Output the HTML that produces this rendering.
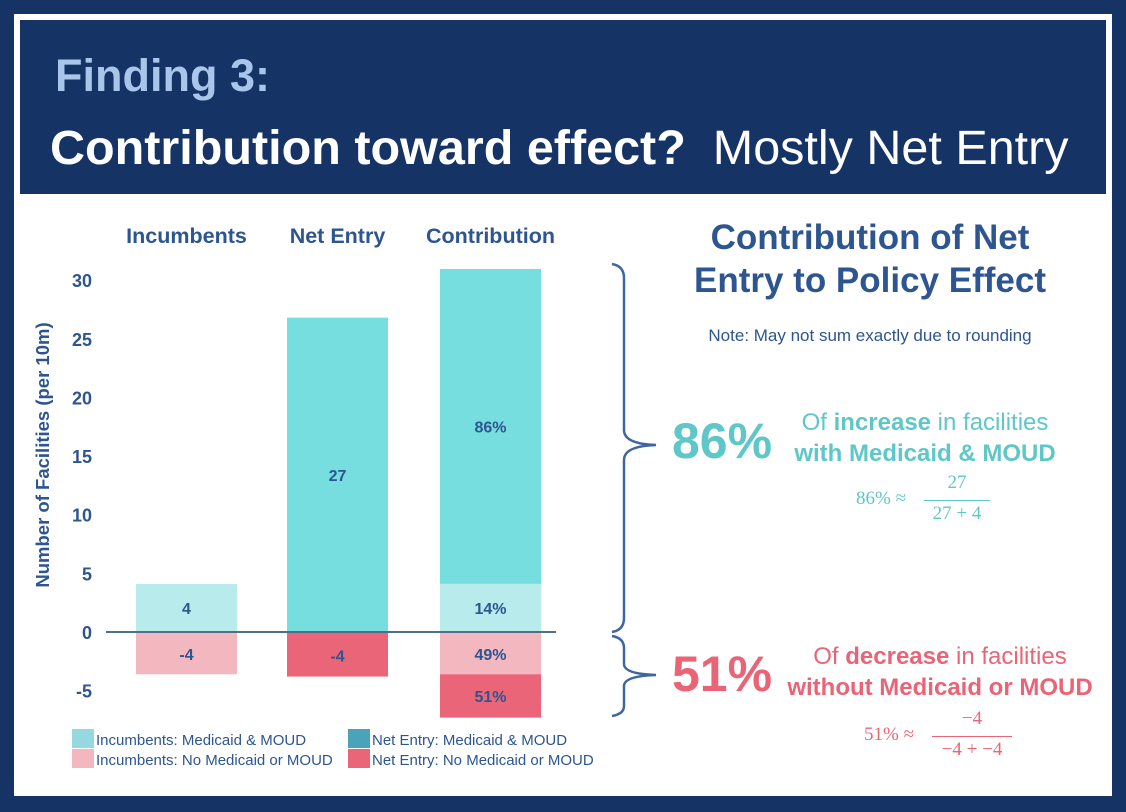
<!DOCTYPE html>
<html><head><meta charset="utf-8"><style>
body{margin:0;width:1126px;height:812px;background:#163366;font-family:"Liberation Sans",sans-serif;overflow:hidden;position:relative}
.panel{position:absolute;left:14px;top:14px;width:1098px;height:782px;background:#fff}
.header{position:absolute;left:20px;top:20px;width:1086px;height:174px;background:#163366}
.t1{position:absolute;left:35px;top:30px;font-size:45px;font-weight:bold;color:#a9c6ea}
.t2{position:absolute;left:30px;top:100px;font-size:48.5px;color:#fff;white-space:nowrap}
.rt{position:absolute;text-align:center;color:#2d5590;font-weight:bold}
</style></head><body>
<div class="panel"></div>
<div class="header">
 <div class="t1">Finding 3:</div>
 <div class="t2"><b>Contribution toward effect?</b>&nbsp; Mostly Net Entry</div>
</div>
<svg width="1126" height="812" style="position:absolute;left:0;top:0">
<g id="bars"></g>
</svg>
<div class="rt" style="left:660px;top:216px;width:420px;font-size:35px;line-height:43px">Contribution of Net<br>Entry to Policy Effect</div>
<div style="position:absolute;left:660px;top:326px;width:420px;text-align:center;font-size:17px;color:#2d5590">Note: May not sum exactly due to rounding</div>
<div style="position:absolute;left:672px;top:412px;font-size:50px;font-weight:bold;color:#5fc7c7">86%</div>
<div style="position:absolute;left:780px;top:407px;width:290px;text-align:center;font-size:24px;line-height:31px;color:#5fc7c7">Of <b>increase</b> in facilities<br><b>with Medicaid &amp; MOUD</b></div>
<div style="position:absolute;left:856px;top:472px;font-family:'Liberation Serif',serif;font-size:19px;color:#5fc7c7">
<span style="position:absolute;left:0;top:16px;white-space:nowrap">86% ≈</span>
<span style="position:absolute;left:68px;top:0;width:66px;text-align:center">27</span>
<span style="position:absolute;left:68px;top:28px;width:66px;border-top:1.5px solid #5fc7c7"></span>
<span style="position:absolute;left:68px;top:31px;width:66px;text-align:center;white-space:nowrap">27 + 4</span></div>
<div style="position:absolute;left:672px;top:645px;font-size:50px;font-weight:bold;color:#ea6478">51%</div>
<div style="position:absolute;left:780px;top:641px;width:320px;text-align:center;font-size:24px;line-height:31px;color:#ea6478">Of <b>decrease</b> in facilities<br><b>without Medicaid or MOUD</b></div>
<div style="position:absolute;left:864px;top:708px;font-family:'Liberation Serif',serif;font-size:19px;color:#ea6478">
<span style="position:absolute;left:0;top:16px;white-space:nowrap">51% ≈</span>
<span style="position:absolute;left:68px;top:0;width:80px;text-align:center">−4</span>
<span style="position:absolute;left:68px;top:28px;width:80px;border-top:1.5px solid #ea6478"></span>
<span style="position:absolute;left:68px;top:31px;width:80px;text-align:center;white-space:nowrap">−4 + −4</span></div>
<script>
const categories=["Incumbents","Net Entry","Contribution"];
const posBottom=[0,0,4.1];
const posValues=[4.1,26.8,26.85];
const posLight=[4.1,0,4.1];
const negUpper=[-3.6,-3.8,-3.6];
const negLower=[0,0,-3.7];
const ticks=[30,25,20,15,10,5,0,-5];
const labels={pos:["4","27","86%"],light:["","","14%"],negU:["-4","-4","49%"],negL:["","","51%"]};
const C={lt:"#b8ecec",t:"#76dede",lp:"#f3b7c0",r:"#ea6578",tx:"#2d5590"};
const y=v=>632-v*11.73;
const x0=[136,287,440],bw=101;
const g=document.getElementById('bars');
const NS="http://www.w3.org/2000/svg";
function mk(t,a,name){const e=document.createElementNS(NS,t);for(const k in a)e.setAttribute(k,a[k]);


g.appendChild(e);return e;}
function txt(s,xx,yy,name,o){const e=mk('text',Object.assign({x:xx,y:yy,'text-anchor':'middle','font-size':16,'font-weight':'bold',fill:C.tx,'font-family':'Liberation Sans'},o||{}),name);e.textContent=s;return e;}
categories.forEach((c,i)=>{
 txt(c,x0[i]+bw/2,243,'category-'+i,{'font-size':21.5});
 if(posLight[i]>0){mk('rect',{x:x0[i],y:y(posLight[i]),width:bw,height:y(0)-y(posLight[i]),fill:C.lt},'bar-light-pos-'+i);}
 const b=i==1?0:posBottom[i];
 if(i>0){mk('rect',{x:x0[i],y:y(b+posValues[i]),width:bw,height:y(b)-y(b+posValues[i]),fill:C.t},'bar-teal-'+i);}
 mk('rect',{x:x0[i],y:y(0),width:bw,height:y(negUpper[i])-y(0),fill:i==1?C.r:C.lp},'bar-neg-'+i);
 if(negLower[i]<0){mk('rect',{x:x0[i],y:y(negUpper[i]),width:bw,height:y(negUpper[i]+negLower[i])-y(negUpper[i]),fill:C.r},'bar-neg-lower-'+i);}
 if(i==0)txt(labels.pos[0],x0[i]+bw/2,(y(0)+y(posLight[0]))/2+6,'label-pos-0');
 else txt(labels.pos[i],x0[i]+bw/2,(y(b)+y(b+posValues[i]))/2+6,'label-pos-'+i);
 if(labels.light[i])txt(labels.light[i],x0[i]+bw/2,(y(0)+y(posLight[i]))/2+6,'label-light-'+i);
 txt(labels.negU[i],x0[i]+bw/2,(y(0)+y(negUpper[i]))/2+7,'label-neg-'+i);
 if(labels.negL[i])txt(labels.negL[i],x0[i]+bw/2,(y(negUpper[i])+y(negUpper[i]+negLower[i]))/2+6,'label-neg-lower-'+i);
});
ticks.forEach(t=>txt(String(t),92,y(t)+7,'y-tick-'+t,{'text-anchor':'end','font-size':18}));
mk('line',{x1:106,x2:556,y1:632,y2:632,stroke:'#4d6f8c','stroke-width':2},'zero-line');
const yt=mk('text',{x:0,y:0,transform:'translate(49,455) rotate(-90)','text-anchor':'middle','font-size':18.5,'font-weight':'bold',fill:C.tx,'font-family':'Liberation Sans'},'y-axis-title');yt.textContent='Number of Facilities (per 10m)';
mk('path',{d:'M612 264 Q624 266 624 278 L624 430 Q624 444 656 445 Q624 446 624 460 L624 618 Q624 630 612 632',fill:'none',stroke:'#3e67a0','stroke-width':2.5},'brace-top');
mk('path',{d:'M612 636 Q624 638 624 648 L624 664 Q624 674 656 675 Q624 676 624 686 L624 706 Q624 714 612 716',fill:'none',stroke:'#3e67a0','stroke-width':2.5},'brace-bottom');
const leg=[["Incumbents: Medicaid & MOUD","#95d8e0",72,745],["Net Entry: Medicaid & MOUD","#4aa3b8",348,745],["Incumbents: No Medicaid or MOUD","#f3b7c0",72,765],["Net Entry: No Medicaid or MOUD","#ea6578",348,765]];
leg.forEach((l,i)=>{mk('rect',{x:l[2],y:l[3]-16,width:22,height:19,fill:l[1]},'legend-swatch-'+i);
 txt(l[0],l[2]+24,l[3],'legend-entry-'+i,{'text-anchor':'start','font-weight':'normal','font-size':15});});
</script>
</body></html>
